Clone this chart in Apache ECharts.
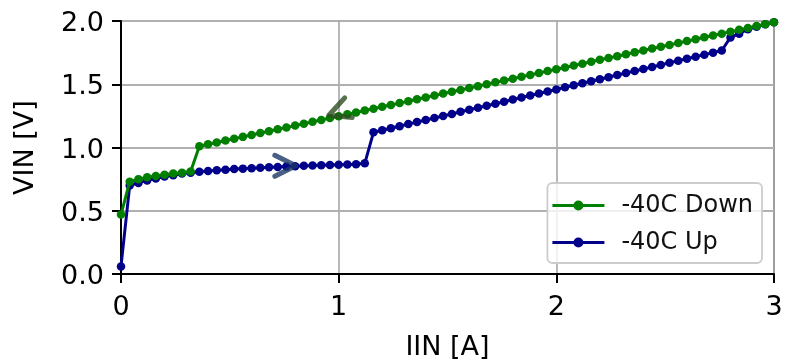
<!DOCTYPE html>
<html>
<head>
<meta charset="utf-8">
<script src="https://cdn.jsdelivr.net/npm/echarts@6/dist/echarts.min.js"></script>
<style>
html,body{margin:0;padding:0;background:#fff;}
#chart{width:785px;height:363px;}
</style>
</head>
<body>
<div id="chart"></div>
<script>
// Input current sweep points [A]
const iin = [0, 0.04, 0.08, 0.12, 0.16, 0.2, 0.24, 0.28, 0.32, 0.36,
  0.4, 0.44, 0.48, 0.52, 0.56, 0.6, 0.64, 0.68, 0.72, 0.76,
  0.8, 0.84, 0.88, 0.92, 0.96, 1.0, 1.04, 1.08, 1.12, 1.16,
  1.2, 1.24, 1.28, 1.32, 1.36, 1.4, 1.44, 1.48, 1.52, 1.56,
  1.6, 1.64, 1.68, 1.72, 1.76, 1.8, 1.84, 1.88, 1.92, 1.96,
  2.0, 2.04, 2.08, 2.12, 2.16, 2.2, 2.24, 2.28, 2.32, 2.36,
  2.4, 2.44, 2.48, 2.52, 2.56, 2.6, 2.64, 2.68, 2.72, 2.76,
  2.8, 2.84, 2.88, 2.92, 2.96, 3.0];
// VIN [V], sweep up
const vinUp = [0.06, 0.70, 0.72, 0.74, 0.755, 0.77, 0.78, 0.795, 0.80, 0.808,
  0.815, 0.82, 0.825, 0.83, 0.833, 0.836, 0.84, 0.843, 0.846, 0.849,
  0.852, 0.855, 0.857, 0.86, 0.862, 0.864, 0.866, 0.868, 0.875, 1.12,
  1.136, 1.152, 1.168, 1.185, 1.201, 1.217, 1.233, 1.249, 1.265, 1.282,
  1.298, 1.314, 1.330, 1.346, 1.362, 1.379, 1.395, 1.411, 1.427, 1.443,
  1.459, 1.476, 1.492, 1.508, 1.524, 1.540, 1.556, 1.573, 1.589, 1.605,
  1.621, 1.637, 1.653, 1.670, 1.686, 1.702, 1.718, 1.734, 1.750, 1.767,
  1.87, 1.90, 1.935, 1.955, 1.975, 1.99];
// VIN [V], sweep down
const vinDown = [0.47, 0.73, 0.75, 0.765, 0.775, 0.785, 0.795, 0.80, 0.81, 1.01,
  1.025, 1.040, 1.055, 1.069, 1.084, 1.099, 1.114, 1.129, 1.144, 1.158,
  1.173, 1.188, 1.203, 1.218, 1.233, 1.247, 1.262, 1.277, 1.292, 1.307,
  1.322, 1.336, 1.351, 1.366, 1.381, 1.396, 1.411, 1.426, 1.440, 1.455,
  1.470, 1.485, 1.500, 1.515, 1.529, 1.544, 1.559, 1.574, 1.589, 1.604,
  1.618, 1.633, 1.648, 1.663, 1.678, 1.693, 1.707, 1.722, 1.737, 1.752,
  1.767, 1.782, 1.797, 1.811, 1.826, 1.841, 1.856, 1.871, 1.886, 1.900,
  1.915, 1.930, 1.945, 1.960, 1.975, 1.990];
const seriesNames = ['-40C Down', '-40C Up'];
const xTicks = [0, 1, 2, 3];
const yTicks = [0.0, 0.5, 1.0, 1.5, 2.0];
// direction arrows (centre positions)
const arrowUpPos = [0.755, 0.855];
const arrowDownPos = [1.0, 1.285];

const FONT = 'DejaVu Sans';
const GREEN = '#007f00';
const BLUE = '#00008b';
const pair = (xs, ys) => xs.map((x, i) => [x, ys[i]]);
const chevronRight = 'path://M0,0 L20,10 L0,20';
const chevronLeft = 'path://M20,0 L0,10 L20,20';
// legend icon: thick line with small dot in the middle (bbox 52 x 10)
const legendIcon = 'path://M0,3.5 L21.5,3.5 L21.5,6.5 L0,6.5 Z M30.5,3.5 L52,3.5 L52,6.5 L30.5,6.5 Z M21,5 A5,5 0 1 1 31,5 A5,5 0 1 1 21,5 Z';

const chart = echarts.init(document.getElementById('chart'), null, {renderer: 'canvas'});
chart.setOption({
  animation: false,
  backgroundColor: '#ffffff',
  grid: {left: 121, right: 11, top: 21, bottom: 89, show: true, borderColor: '#000', borderWidth: 2,
         backgroundColor: 'transparent', outerBoundsMode: 'none', containLabel: false},
  xAxis: {
    type: 'value', min: xTicks[0], max: xTicks[xTicks.length - 1], interval: 1,
    name: 'IIN [A]', nameLocation: 'middle', nameGap: 60,
    nameTextStyle: {fontFamily: FONT, fontSize: 27, color: '#000'},
    axisLine: {show: true, onZero: false, lineStyle: {color: '#000', width: 2}},
    axisTick: {show: true, inside: false, length: 9, lineStyle: {color: '#000', width: 2}},
    axisLabel: {fontFamily: FONT, fontSize: 27, color: '#000', margin: 20},
    splitLine: {show: true, lineStyle: {color: '#b0b0b0', width: 1.8}}
  },
  yAxis: {
    type: 'value', min: yTicks[0], max: yTicks[yTicks.length - 1], interval: 0.5,
    name: 'VIN [V]', nameLocation: 'middle', nameGap: 82, nameRotate: 90,
    nameTextStyle: {fontFamily: FONT, fontSize: 27, color: '#000'},
    axisLine: {show: true, onZero: false, lineStyle: {color: '#000', width: 2}},
    axisTick: {show: true, inside: false, length: 9, lineStyle: {color: '#000', width: 2}},
    axisLabel: {
      margin: 17, formatter: v => '{t|' + v.toFixed(1) + '}',
      rich: {t: {fontFamily: FONT, fontSize: 27, color: '#000', padding: [6, 0, 0, 0]}}
    },
    splitLine: {show: true, lineStyle: {color: '#b0b0b0', width: 1.8}}
  },
  legend: {
    data: [
      {name: seriesNames[0], icon: legendIcon, itemStyle: {color: GREEN}},
      {name: seriesNames[1], icon: legendIcon, itemStyle: {color: BLUE}}
    ],
    orient: 'vertical', right: 23, top: 183,
    itemWidth: 52, itemHeight: 10, itemGap: 10,
    padding: [9, 9, 7, 5],
    backgroundColor: 'rgba(255,255,255,0.8)',
    borderColor: '#cccccc', borderWidth: 1.8, borderRadius: 5,
    textStyle: {fontFamily: FONT, fontSize: 24, color: '#111', padding: [0, 0, 0, 12], lineHeight: 27}
  },
  series: [
    {
      name: seriesNames[1], type: 'line', data: pair(iin, vinUp),
      color: BLUE, symbol: 'circle', symbolSize: 8.5, showSymbol: true,
      lineStyle: {width: 3, color: BLUE}, itemStyle: {color: BLUE}, z: 3
    },
    {
      name: seriesNames[0], type: 'line', data: pair(iin, vinDown),
      color: GREEN, symbol: 'circle', symbolSize: 8.5, showSymbol: true,
      lineStyle: {width: 3, color: GREEN}, itemStyle: {color: GREEN}, z: 4
    },
    {
      type: 'scatter', data: [arrowUpPos], symbol: chevronRight, symbolSize: [21, 21],
      itemStyle: {color: 'none', borderColor: '#1c3766', borderWidth: 5, borderCap: 'round', borderJoin: 'round'},
      z: 6, silent: true
    },
    {
      type: 'scatter', data: [arrowDownPos], symbol: chevronLeft, symbolSize: [21, 21], symbolRotate: 21,
      itemStyle: {color: 'none', borderColor: '#2f4f22', borderWidth: 5, borderCap: 'round', borderJoin: 'round'},
      z: 6, silent: true
    }
  ]
});
</script>
</body>
</html>
